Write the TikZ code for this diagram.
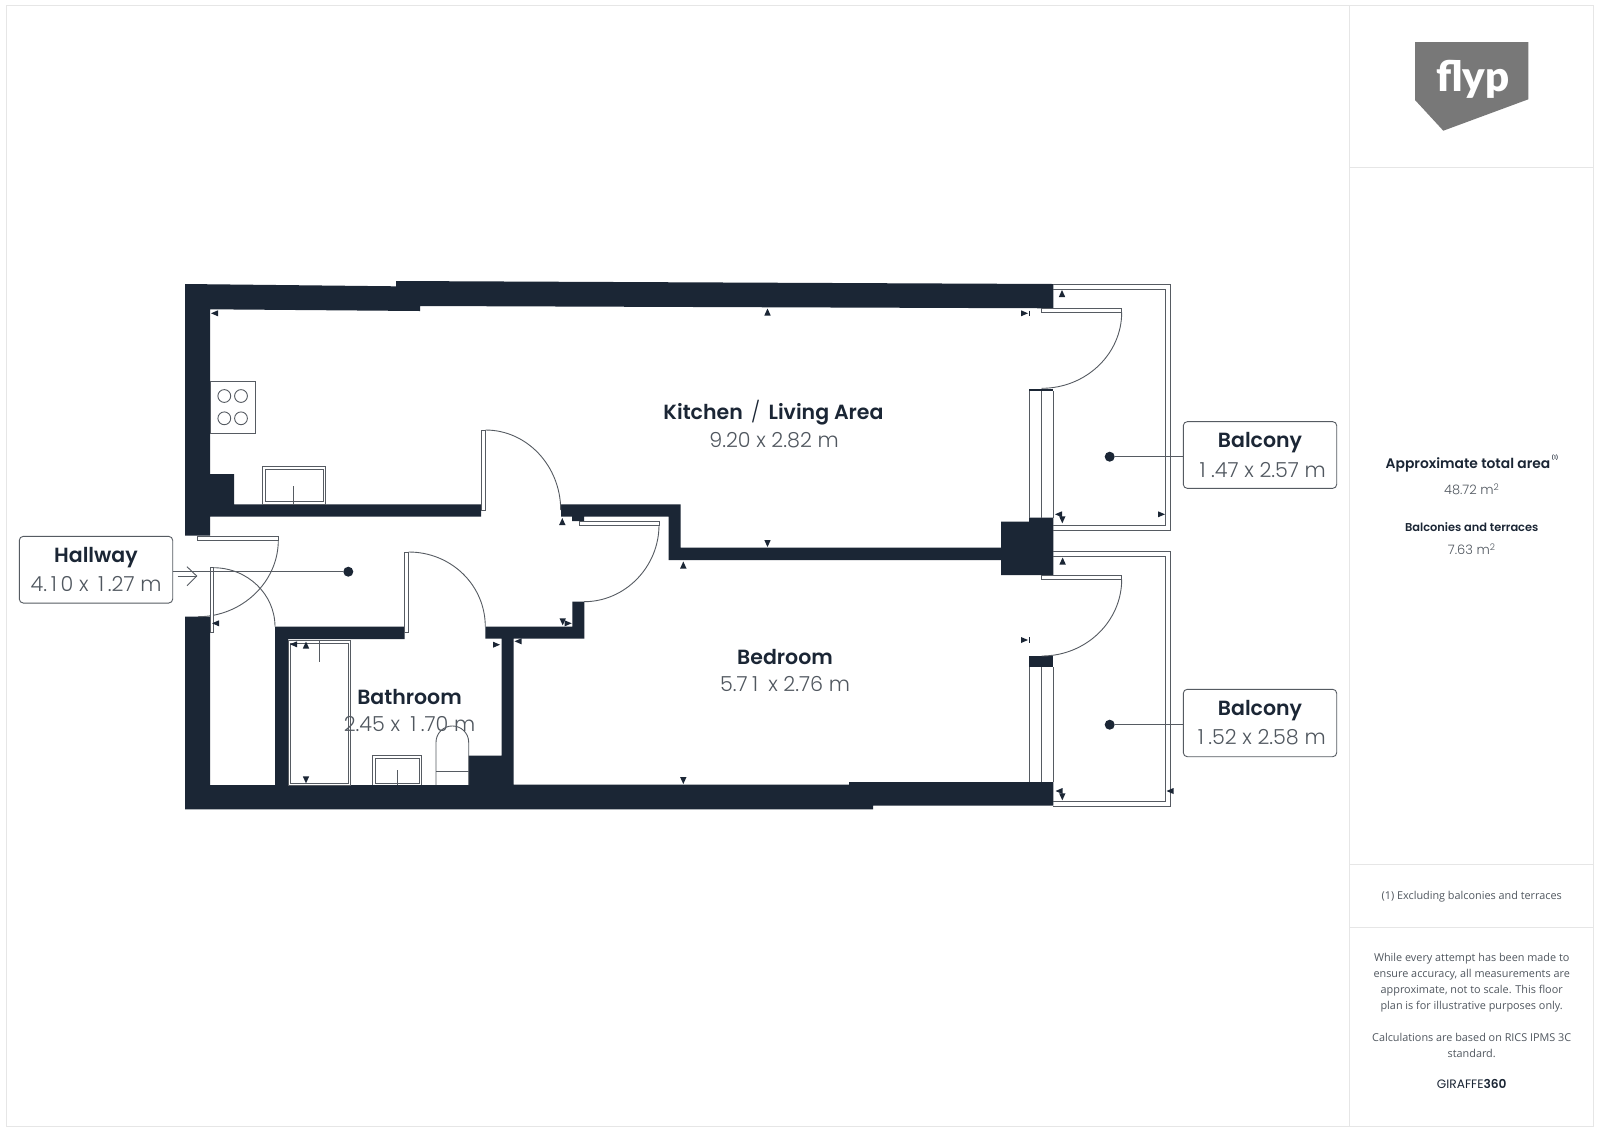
\documentclass[tikz,border=0pt]{standalone}
\usepackage{fontspec}
\setmainfont{Open Sans}
\newfontfamily\hb{Poppins SemiBold}
\newfontfamily\hm{Poppins Medium}
\newfontfamily\hl{Poppins Light}
\newfontfamily\hr{Poppins}
\newfontfamily\logofont{Lato Black}
\definecolor{wall}{HTML}{1B2635}
\definecolor{ink}{HTML}{565B62}
\definecolor{frame}{HTML}{E6E6E6}
\definecolor{txt}{HTML}{50575F}
\tikzset{
  wallfill/.style={fill=wall,draw=none},
  fix/.style={draw=ink,line width=0.9pt,fill=white},
  thin line/.style={draw=ink,line width=0.9pt},
  infobox/.style={draw=ink,line width=0.9pt,rounded corners=4pt,fill=white},
  roomname/.style={font=\hb\fontsize{20.5}{24}\selectfont,text=wall,inner sep=0pt},
  roomsize/.style={font=\hl\fontsize{20.7}{24}\selectfont,text=txt,inner sep=0pt},
  foot/.style={font=\fontsize{10.85}{16}\selectfont,text=txt,inner sep=0pt,align=center},
  tick/.style={fill=wall,draw=none},
  dotmark/.style={circle,fill=wall,draw=none,minimum size=10pt,inner sep=0pt},
}
\newcommand{\one}{\kern5.5pt 1\kern5.5pt}
\newcommand{\onea}{\kern3.8pt 1\kern3.8pt}
\newcommand{\oneb}{\kern4.5pt 1\kern4.5pt}
\newcommand{\TU}[2]{\fill[tick] (#1-3.2,#2+7) -- (#1+3.2,#2+7) -- (#1,#2) -- cycle;}
\newcommand{\TD}[2]{\fill[tick] (#1-3.2,#2-7) -- (#1+3.2,#2-7) -- (#1,#2) -- cycle;}
\newcommand{\TL}[2]{\fill[tick] (#1+7,#2-3) -- (#1+7,#2+3) -- (#1,#2) -- cycle;}
\newcommand{\TR}[2]{\fill[tick] (#1-7,#2-3) -- (#1-7,#2+3) -- (#1,#2) -- cycle;}
\begin{document}
\begin{tikzpicture}[x=1pt,y=-1pt]
\useasboundingbox (0,0) rectangle (1600,1128);
\fill[white] (0,0) rectangle (1600,1128);
% frame
\draw[frame,line width=1pt] (6.7,5) rectangle (1593.5,1126);
\draw[frame,line width=1pt] (1349.5,5) -- (1349.5,1126);
\draw[frame,line width=1pt] (1349.5,167.5) -- (1593.5,167.5);
\draw[frame,line width=1pt] (1349.5,864.5) -- (1593.5,864.5);
\draw[frame,line width=1pt] (1349.5,927.5) -- (1593.5,927.5);
% room text (under fixtures)
\node[roomname] (kn) at (773.5,413) {Kitchen\kern3.5pt\ {\hl/}\kern3.5pt\ Living Area};
\node[roomsize] (ks) at (774,440) {9.20 x 2.82 m};
\node[roomname] (bn) at (785,656.5) {Bedroom};
\node[roomsize] (bs) at (785,684) {5.7\oneb\ x 2.76 m};
\node[roomname] (tn) at (409.5,696.5) {Bathroom};
\node[roomsize] (ts) at (409.5,724) {2.45 x \oneb.70 m};
% walls
\fill[wallfill] (185,284) -- (396,286.3) -- (396,281) -- (1053.3,284) -- (1053.3,308.3) -- (420,306) -- (420,311) -- (210,309.3)
  -- (210,474) -- (234,474) -- (234,504.3) -- (481,504.3) -- (481,516.7) -- (210,516.7) -- (210,535.7) -- (185,535.7) -- cycle;
\fill[wallfill] (561,504.3) -- (680.7,504.3) -- (680.7,547.7) -- (1001,547.7) -- (1001,521.7) -- (1029,521.7) -- (1029,517.7) -- (1053.3,517.7)
  -- (1053.3,575) -- (1001,575) -- (1001,560) -- (668.5,560) -- (668.5,516.7) -- (584,516.7) -- (584,521) -- (572,521) -- (572,516.7) -- (561,516.7) -- cycle;
\fill[wallfill] (185,616.7) -- (210,616.7) -- (210,785) -- (275,785) -- (275,626.7) -- (404.7,626.7) -- (404.7,639) -- (288,639) -- (288,785)
  -- (468.7,785) -- (468.7,755.7) -- (501.7,755.7) -- (501.7,638.7) -- (485.3,638.7) -- (485.3,626.7) -- (572.3,626.7) -- (572.3,601.7) -- (584.3,601.7)
  -- (584.3,638.7) -- (513.7,638.7) -- (513.7,784.5) -- (849,784.5) -- (849,782) -- (1053.3,782) -- (1053.3,805.7) -- (873,805.7) -- (873,809.3) -- (185,809.3) -- cycle;
% window dark bands
\fill[wallfill] (1029,388.5) rectangle (1053.3,391);
\fill[wallfill] (1029,656) rectangle (1053.3,667.3);
% kitchen hob and sink
\draw[fix] (210.7,381.3) rectangle (255.7,433.3);
\foreach \cx/\cy in {224.3/396,241/396,224.3/418.3,241/418.3}{\draw[thin line] (\cx,\cy) circle (6.4);}
\draw[fix] (262.3,466.7) rectangle (325.3,504.3);
\draw[thin line] (265,469.5) rectangle (323,501.7);
\draw[thin line] (293.3,486) -- (293.3,504.3);
% bath
\draw[thin line] (288,640.7) rectangle (350.7,785);
\draw[thin line] (290.4,643) rectangle (348.6,783);
\draw[thin line] (319.3,640.7) -- (319.3,661.7);
% basin
\draw[thin line] (372.7,785) -- (372.7,755.7) -- (421.7,755.7) -- (421.7,785);
\draw[thin line] (375.2,783) rectangle (419.2,758.2);
\draw[thin line] (397.3,770) -- (397.3,785);
% toilet
\draw[thin line] (436,785) -- (436,742.3) arc[start angle=180,end angle=360,radius=16.35] -- (468.7,785);
\draw[thin line] (436,771) -- (468.7,771);
% doors
\draw[fix] (481.5,430) rectangle (485.5,510.7);
\draw[thin line] (485.5,430) .. controls (527,430) and (560.7,466) .. (560.7,510);
\draw[fix] (404.7,552) rectangle (408.7,632.3);
\draw[thin line] (408.7,552) .. controls (451,552) and (485.3,585) .. (485.3,626.7);
\draw[fix] (579,521) rectangle (659,525);
\draw[thin line] (659,525) .. controls (659,567) and (625,601.7) .. (584,601.7);
\draw[fix] (197.3,536) rectangle (278.3,540.3);
\draw[thin line] (278.3,540.3) .. controls (278.3,582) and (242,616.7) .. (198,616.7);
\draw[fix] (210,567.7) rectangle (213.3,632.7);
\draw[thin line] (213.3,567.7) .. controls (247.3,567.7) and (275,594) .. (275,626.7);
% balcony door leaves + arcs
\draw[fix] (1041,308.3) rectangle (1121.7,312.3);
\draw[thin line] (1121.7,312.3) .. controls (1121.7,354) and (1086,388.3) .. (1041.7,388.3);
\draw[fix] (1041,575.7) rectangle (1121.7,579.3);
\draw[thin line] (1121.7,579.3) .. controls (1121.7,621.5) and (1086,656) .. (1041.7,656);
% windows
\draw[thin line] (1029,391) -- (1029,517.7) (1041,391) -- (1041,517.7) (1053.3,391) -- (1053.3,517.7);
\draw[thin line] (1029,667.3) -- (1029,781.7) (1041,667.3) -- (1041,781.7) (1053.3,667.3) -- (1053.3,781.7);
% balcony rails
\draw[thin line] (1053.3,284.3) -- (1170.7,284.3) -- (1170.7,530) -- (1053.3,530);
\draw[thin line] (1053.3,289) -- (1165.7,289) -- (1165.7,525.7) -- (1053.3,525.7);
\draw[thin line] (1053.3,551.7) -- (1170.7,551.7) -- (1170.7,806) -- (1053.3,806);
\draw[thin line] (1053.3,556.7) -- (1165.7,556.7) -- (1165.7,801.7) -- (1053.3,801.7);
% ticks
\TL{211}{313.3} \TU{767.5}{308.5} \TR{1028}{313.3} \draw[wall,line width=.7pt] (1029.5,310.5) -- (1029.5,316);
\TU{1062}{290} \TL{1055}{514.3} \TD{1062.3}{523.3} \TR{1165}{514.3}
\TU{1062.6}{557.5} \TL{1055.5}{791} \TD{1062.3}{800.3} \TL{1166.5}{791}
\TR{1028}{640} \draw[wall,line width=.7pt] (1029.5,637.3) -- (1029.5,642.7);
\TU{562.3}{518} \TU{683.3}{561.5} \TR{571.7}{623.3} \TD{562.7}{625.3} \TR{500}{644.7} \TL{514.5}{641.3} \TD{683.3}{784}
\TD{767.5}{547} \TL{212}{623.3} \TL{290}{644.3} \TU{306}{641.5} \TD{306}{783.3}
% info boxes
\node[dotmark] (hd) at (348.3,571.7) {};
\node[infobox,minimum width=153.4pt,minimum height=66.7pt,inner sep=0pt] (hb) at (96,569.7) {};
\node[roomname] (hn) at (96,557.5) {Hallway};
\node[roomsize] (hs) at (96,584) {4.\onea0 x \onea.27 m};
\coordinate (ha) at (172.7,571.7);
\draw[thin line] (ha) -- (hd);
\coordinate (as) at (177.7,576);
\coordinate (ae) at (196.7,576);
\draw[thin line] (as) -- (ae);
\draw[thin line] (187,566.7) -- (ae) -- (187,585.7);
\node[dotmark] (b1d) at (1109.7,456.7) {};
\node[infobox,minimum width=153.4pt,minimum height=66.7pt,inner sep=0pt] (b1b) at (1260,455) {};
\node[roomname] (b1n) at (1260,442.5) {Balcony};
\node[roomsize] (b1s) at (1260,469.5) {\one.47 x 2.57 m};
\draw[thin line] (b1d) -- (b1d-|b1b.west);
\node[dotmark] (b2d) at (1109.7,724.7) {};
\node[infobox,minimum width=153.4pt,minimum height=67.4pt,inner sep=0pt] (b2b) at (1260,723) {};
\node[roomname] (b2n) at (1260,710.5) {Balcony};
\node[roomsize] (b2s) at (1259.5,737) {\oneb.52 x 2.58 m};
\draw[thin line] (b2d) -- (b2d-|b2b.west);
% logo
\fill[black!53] (1415,42) -- (1528.3,42) -- (1528.3,99.3) -- (1443.3,130.7) -- (1415,100) -- cycle;
\node[font=\logofont\fontsize{42}{42}\selectfont,text=white,inner sep=0pt,anchor=base] (logo) at (1473,91.7) {flyp};
% summary
\node[font=\hb\fontsize{13.85}{16}\selectfont,text=wall,inner sep=0pt] (ta) at (1468,464.5) {Approximate total area};
\node[font=\hb\fontsize{5}{6}\selectfont,text=wall,inner sep=0pt] (tas) at (1555,458) {(1)};
\node[font=\hl\fontsize{13}{16}\selectfont,text=txt,inner sep=0pt] (tv) at (1471.7,489) {48.72 m\textsuperscript{2}};
\node[font=\hb\fontsize{11.4}{14}\selectfont,text=wall,inner sep=0pt] (bt) at (1471.7,527) {Balconies and terraces};
\node[font=\hl\fontsize{13}{16}\selectfont,text=txt,inner sep=0pt] (bv) at (1471.7,549) {7.63 m\textsuperscript{2}};
% footer
\node[foot] (f1) at (1471.7,896.5) {(1) Excluding balconies and terraces};
\node[foot,anchor=north] (f2) at (1471.7,953.5) {While every attempt has been made to\\ensure accuracy, all measurements are\\approximate, not to scale. This floor\\plan is for illustrative purposes only.\\[16pt]Calculations are based on RICS IPMS 3C\\standard.};
\node[font=\fontsize{12.2}{14}\selectfont,text=wall,inner sep=0pt] (g) at (1471.7,1084.3) {{\hr GIRAFFE}{\hb 360}};
\end{tikzpicture}
\end{document}
